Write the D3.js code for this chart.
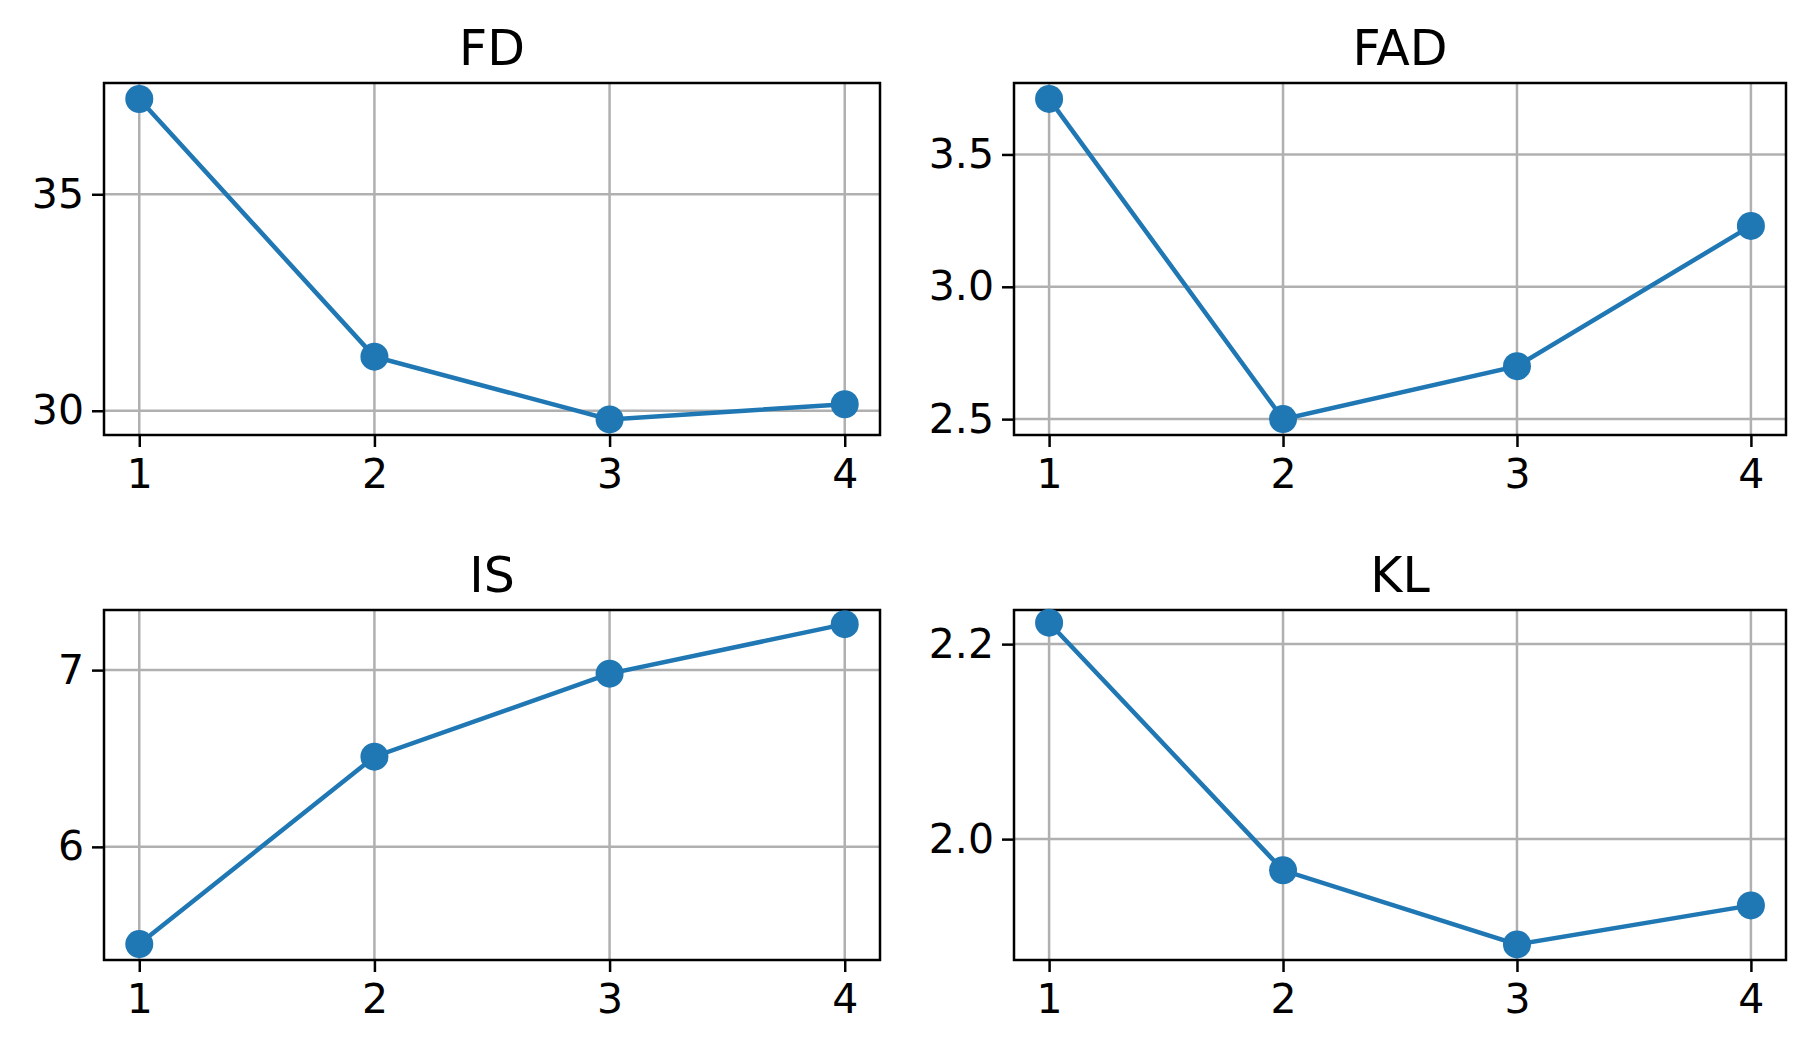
<!DOCTYPE html>
<html><head><meta charset="utf-8">
<script src="https://cdn.jsdelivr.net/npm/d3@7"></script>
<style>body{margin:0;background:#fff}text{font-family:"DejaVu Sans",sans-serif}</style>
</head><body><div id="chart"></div>
<script>
var steps = [1, 2, 3, 4];
var titles = ["FD", "FAD", "IS", "KL"];
var fdValues = [37.2, 31.25, 29.8, 30.15];
var fadValues = [3.71, 2.5, 2.70, 3.23];
var isValues = [5.45, 6.51, 6.98, 7.26];
var klValues = [2.222, 1.968, 1.892, 1.932];
var yDomains = [[29.44, 37.57], [2.44, 3.77], [5.36, 7.34], [1.876, 2.235]];
var yTicks = [[30, 35], [2.5, 3.0, 3.5], [6, 7], [2.0, 2.2]];
var yFormats = [d3.format("d"), d3.format(".1f"), d3.format("d"), d3.format(".1f")];
var series = [fdValues, fadValues, isValues, klValues];

var svg = d3.select("#chart").append("svg").attr("width", 1800).attr("height", 1050);
var panels = [
  {x0: 104, x1: 880, y0: 83, y1: 435},
  {x0: 1014, x1: 1786, y0: 83, y1: 435},
  {x0: 104, x1: 880, y0: 610, y1: 960},
  {x0: 1014, x1: 1786, y0: 610, y1: 960}
];
var blue = "#1f77b4";

panels.forEach(function(p, i){
  var g = svg.append("g");
  var x = d3.scaleLinear().domain([0.85, 4.15]).range([p.x0, p.x1]);
  var y = d3.scaleLinear().domain(yDomains[i]).range([p.y1, p.y0]);
  // grid
  g.selectAll(".gx").data(steps).enter().append("line")
    .attr("x1", d => x(d)).attr("x2", d => x(d)).attr("y1", p.y0).attr("y2", p.y1)
    .attr("stroke", "#b0b0b0").attr("stroke-width", 2.5);
  g.selectAll(".gy").data(yTicks[i]).enter().append("line")
    .attr("y1", d => y(d)).attr("y2", d => y(d)).attr("x1", p.x0).attr("x2", p.x1)
    .attr("stroke", "#b0b0b0").attr("stroke-width", 2.5);
  var xa = g.append("g").attr("transform", "translate(0," + p.y1 + ")")
    .call(d3.axisBottom(x).tickValues(steps).tickFormat(d3.format("d")).tickSize(12).tickPadding(8));
  var ya = g.append("g").attr("transform", "translate(" + p.x0 + ",0)")
    .call(d3.axisLeft(y).tickValues(yTicks[i]).tickFormat(yFormats[i]).tickSize(12).tickPadding(8));
  [xa, ya].forEach(function(a){
    a.select(".domain").remove();
    a.selectAll("line").attr("stroke", "#000").attr("stroke-width", 2.5);
    a.selectAll("text").attr("font-size", 41).attr("fill", "#000");
  });
  xa.selectAll("text").attr("dy", "0.8em");
  g.append("rect").attr("x", p.x0).attr("y", p.y0).attr("width", p.x1 - p.x0).attr("height", p.y1 - p.y0)
    .attr("fill", "none").attr("stroke", "#000").attr("stroke-width", 2.5);
  var line = d3.line().x((d, j) => x(steps[j])).y(d => y(d));
  g.append("path").datum(series[i]).attr("d", line).attr("fill", "none")
    .attr("stroke", blue).attr("stroke-width", 4.5);
  g.selectAll(".pt").data(series[i]).enter().append("circle")
    .attr("cx", (d, j) => x(steps[j])).attr("cy", d => y(d)).attr("r", 14).attr("fill", blue);
  g.append("text").attr("x", (p.x0 + p.x1) / 2).attr("y", p.y0 - 18).attr("text-anchor", "middle")
    .attr("font-size", 49).text(titles[i]);
});
</script></body></html>
